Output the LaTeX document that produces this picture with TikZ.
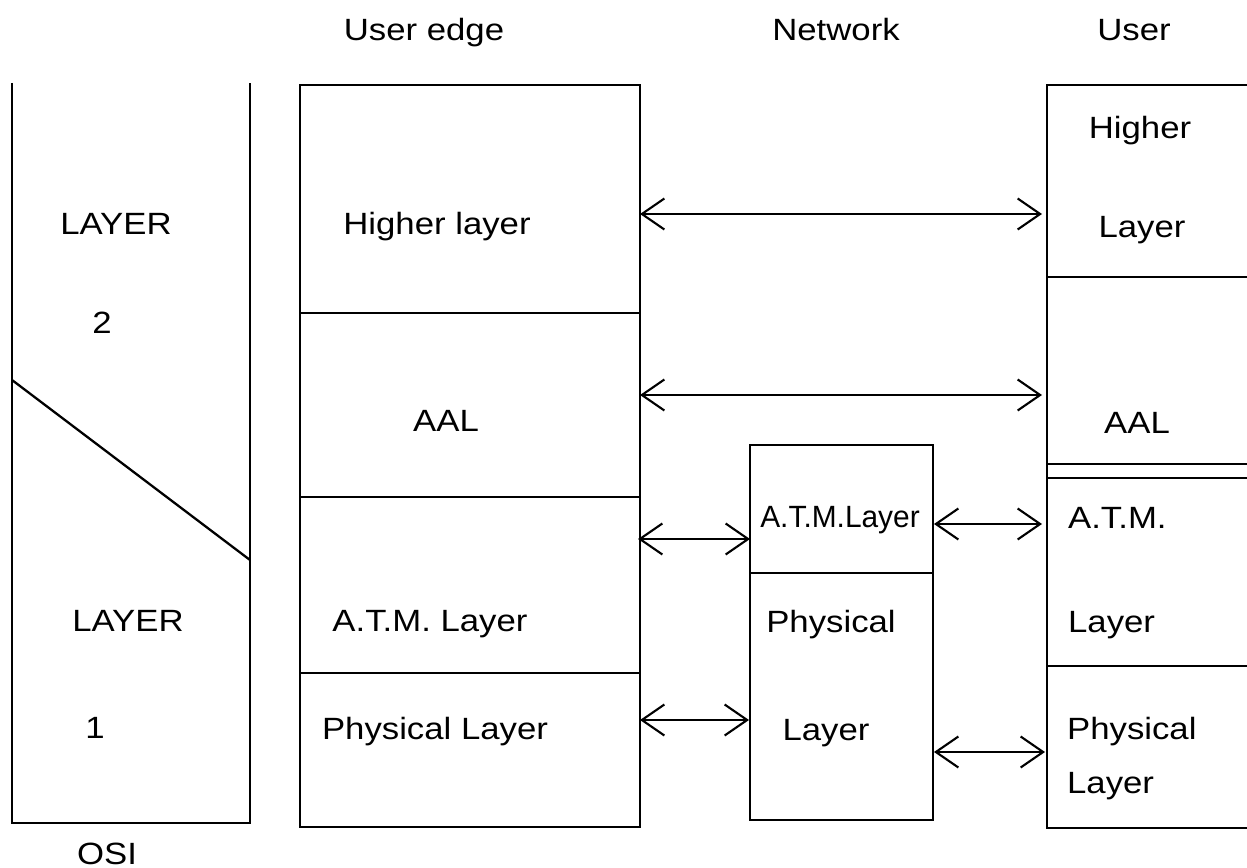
\documentclass[tikz,border=0pt]{standalone}
\usepackage{fontspec}
\setmainfont{Liberation Sans}[FakeStretch=1.13]
\usetikzlibrary{arrows.meta}
\begin{document}
\begin{tikzpicture}[x=0.02cm,y=-0.02cm,
  line width=1.3pt,
  every node/.style={font=\fontsize{17.5}{21}\selectfont, inner sep=0pt},
  ctext/.style={anchor=base},
  ltext/.style={anchor=base west},
  dbl/.style={line width=1.2pt, {Straight Barb[length=0.45cm,width=0.62cm,line width=1.2pt]}-{Straight Barb[length=0.45cm,width=0.62cm,line width=1.2pt]}}
]
\useasboundingbox (0,0) rectangle (1247,868);

% headers
\node[ctext] (hUE) at (424,41) {User edge};
\node[ctext] (hNet) at (836,41) {Network};
\node[ctext] (hUser) at (1134,41) {User};

% OSI column
\draw (12,83) -- (12,823) -- (250,823) -- (250,83);
\draw (12,380) -- (250,560);
\node[ctext] (osiL2) at (116,235) {LAYER};
\node[ctext] (osi2) at (102,333) {2};
\node[ctext] (osiL1) at (128,631) {LAYER};
\node[ctext] (osi1) at (95,738) {1};
\node[ctext] (osi) at (107,864) {OSI};

% User edge stack
\draw (300,85) rectangle (640,827);
\draw (300,313) -- (640,313);
\draw (300,497) -- (640,497);
\draw (300,673) -- (640,673);
\node[ctext] (ueHL) at (437,235) {Higher layer};
\node[ctext] (ueAAL) at (446,431) {AAL};
\node[ctext] (ueATM) at (430,631) {A.T.M. Layer};
\node[ctext] (uePhy) at (435,739) {Physical Layer};

% Network stack
\draw (750,445) rectangle (933,820);
\draw (750,573) -- (933,573);
\node[ctext] (nATM) at (840,527) {\scalebox{0.86}[1]{A.T.M.Layer}};
\node[ctext] (nPhy) at (831,632) {Physical};
\node[ctext] (nLay) at (826,740) {Layer};

% User stack
\draw (1247,85) -- (1047,85) -- (1047,828) -- (1247,828);
\draw (1047,277) -- (1247,277);
\draw (1047,464) -- (1247,464);
\draw (1047,478) -- (1247,478);
\draw (1047,666) -- (1247,666);
\node[ctext] (uHi) at (1140,139) {Higher};
\node[ctext] (uHiL) at (1142,237) {Layer};
\node[ctext] (uAAL) at (1137,433) {AAL};
\node[ltext] (uATM) at (1067,528) {A.T.M.};
\node[ltext] (uATML) at (1067,632) {Layer};
\node[ltext] (uPhy) at (1066,739) {Physical};
\node[ltext] (uPhyL) at (1066,793) {Layer};

% connector end points
\coordinate (a1l) at (640,214);  \coordinate (a1r) at (1042,214);
\coordinate (a2l) at (640,395);  \coordinate (a2r) at (1042,395);
\coordinate (a3l) at (638,539);  \coordinate (a3r) at (750,539);
\coordinate (a4l) at (640,720);  \coordinate (a4r) at (749,720);
\coordinate (a5l) at (934,524);  \coordinate (a5r) at (1042,524);
\coordinate (a6l) at (934,752);  \coordinate (a6r) at (1045,752);

\draw[dbl] (a1l) -- (a1r);
\draw[dbl] (a2l) -- (a2r);
\draw[dbl] (a3l) -- (a3r);
\draw[dbl] (a4l) -- (a4r);
\draw[dbl] (a5l) -- (a5r);
\draw[dbl] (a6l) -- (a6r);
\end{tikzpicture}
\end{document}
